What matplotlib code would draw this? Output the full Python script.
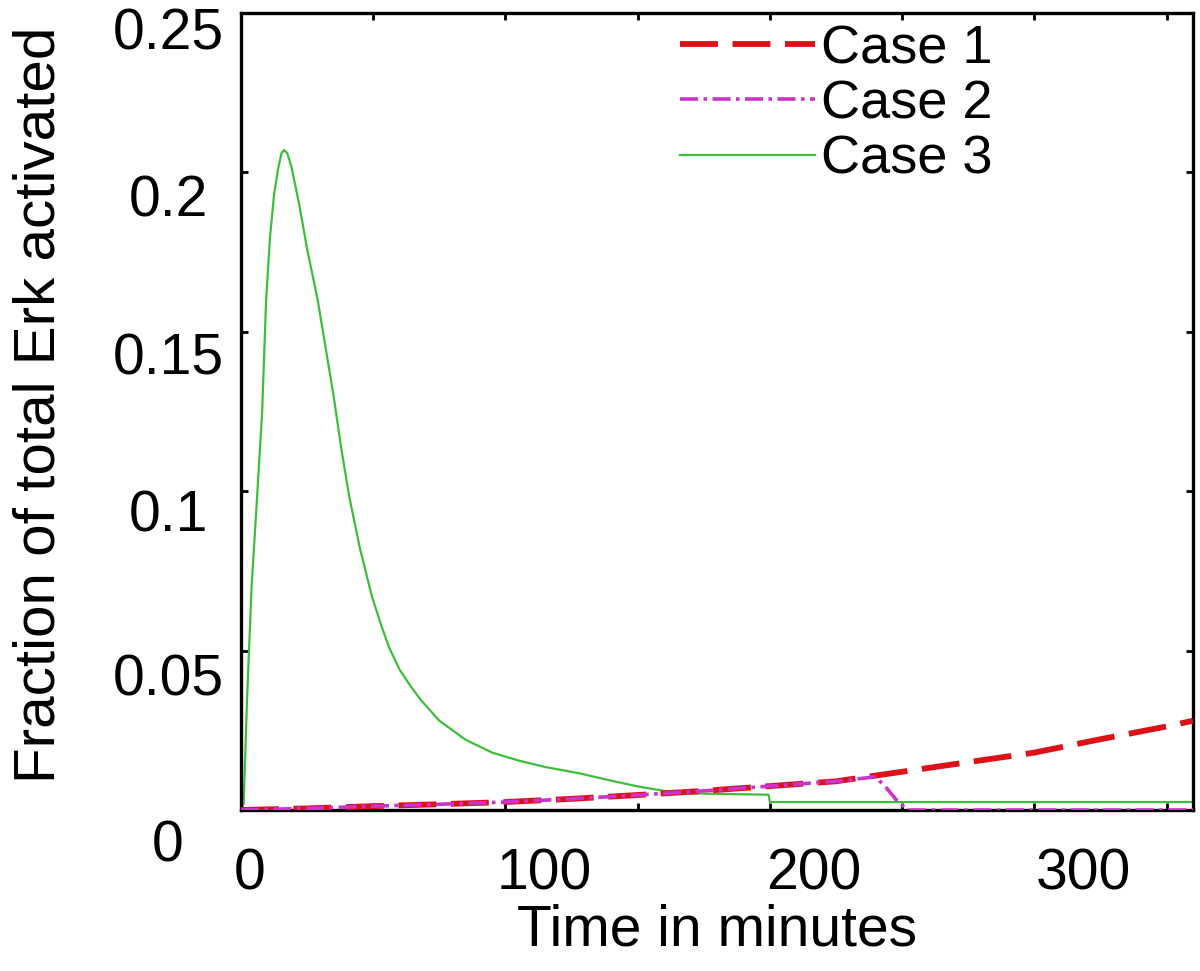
import matplotlib
matplotlib.use("Agg")
import matplotlib.pyplot as plt
import matplotlib.transforms as mtransforms
import numpy as np

plt.rcParams['font.family'] = ['Liberation Sans', 'DejaVu Sans']

# ---- data ----
case1_t = [0, 25, 50, 75, 100, 125, 150, 175, 200, 225, 250, 275, 300, 325, 350, 360]
case1_v = [0, 0.0005, 0.0012, 0.0018, 0.0025, 0.0035, 0.0047, 0.006, 0.0075, 0.009,
           0.0120, 0.0150, 0.0180, 0.0222, 0.0262, 0.0280]

case2_t = [0, 25, 50, 75, 100, 125, 150, 175, 200, 225, 240, 244, 248, 252, 300, 360]
case2_v = [0, 0.0005, 0.0012, 0.0018, 0.0025, 0.0035, 0.0047, 0.006, 0.0075, 0.009,
           0.0104, 0.0070, 0.0030, 0.0, 0.0, 0.0]

case3_t = [0, 1, 2.3, 4, 6, 8, 9.5, 11, 12.5, 14, 15.3, 16.3, 17.5, 19, 20.5, 22, 25, 29,
           32, 35, 38, 41, 45, 49.5, 53, 56, 60, 64, 68, 75, 85, 95, 105, 115, 128,
           140, 150, 160, 170, 199.5, 200, 360]
case3_v = [0, 0.002, 0.035, 0.070, 0.097, 0.125, 0.160, 0.180, 0.193, 0.201, 0.206,
           0.207, 0.206, 0.202, 0.196, 0.190, 0.176, 0.160, 0.145, 0.130, 0.113,
           0.098, 0.082, 0.067, 0.058, 0.051, 0.044, 0.039, 0.0345, 0.028, 0.022,
           0.018, 0.0155, 0.0135, 0.0115, 0.0092, 0.0074, 0.006, 0.0052, 0.0048,
           0.0025, 0.0025]

labels = ["Case 1", "Case 2", "Case 3"]
xticks_major = [0, 100, 200, 300]
xtick_labels = ["0", "100", "200", "300"]
yticks = [0, 0.05, 0.1, 0.15, 0.2, 0.25]
ytick_labels = ["0", "0.05", "0.1", "0.15", "0.2", "0.25"]

fig = plt.figure(figsize=(12, 9.71), dpi=100)
ax = fig.add_axes([241/1200, 1 - 810/971, (1193-241)/1200, (810-13)/971])

ax.plot(case1_t, case1_v, color='#dd1118', lw=4.2, ls=(0, (6.5, 2.5)), label=labels[0], zorder=3)
ax.plot(case2_t, case2_v, color='#cc33cc', lw=2.6, ls=(0, (5, 1.5, 1, 1.5)), label=labels[1], zorder=4)
ax.plot(case3_t, case3_v, color='#3cbd3c', lw=1.6, ls='-', label=labels[2], zorder=2)

ax.set_xlim(0, 360)
ax.set_ylim(0, 0.25)

ax.set_xticks(np.arange(0, 351, 50), minor=True)
ax.set_xticks(xticks_major)
ax.set_xticklabels(xtick_labels)
ax.set_yticks(yticks)
ax.set_yticklabels(ytick_labels)

for s in ax.spines.values():
    s.set_linewidth(2.4)

ax.tick_params(which='both', direction='in', length=5, width=2, top=True, right=True,
               labelsize=41)
ax.tick_params(axis='x', pad=27)
ax.tick_params(axis='y', pad=0)

# shift tick labels to where the reference shows them
xoff = [9, 39, 44, 49]
for lab, dx in zip(ax.get_xticklabels(), xoff):
    lab.set_transform(lab.get_transform() +
                      mtransforms.ScaledTranslation(dx/100, 0, fig.dpi_scale_trans))
yoff = [30, 24, 19, 22, 23, 15]
for lab, dy in zip(ax.get_yticklabels(), yoff):
    lab.set_horizontalalignment('center')
    lab.set_transform(lab.get_transform() +
                      mtransforms.ScaledTranslation(-73/100, -dy/100, fig.dpi_scale_trans))

ax.set_xlabel("Time in minutes", fontsize=41)
ax.xaxis.set_label_coords((717-241)/952, -(903-810)/797)
ax.xaxis.label.set_verticalalignment('top')
ax.set_ylabel("Fraction of total Erk activated", fontsize=42)
ax.yaxis.set_label_coords(-(241-40)/952, (810-405)/797)
ax.yaxis.label.set_verticalalignment('center')

leg = ax.legend(loc='upper left', bbox_to_anchor=((680-241)/952, 1 - (24-13)/797),
                frameon=False, fontsize=39, handlelength=2.5, handletextpad=0.1,
                labelspacing=0.1, borderaxespad=0, borderpad=0)

fig.savefig("out.png", dpi=100)
